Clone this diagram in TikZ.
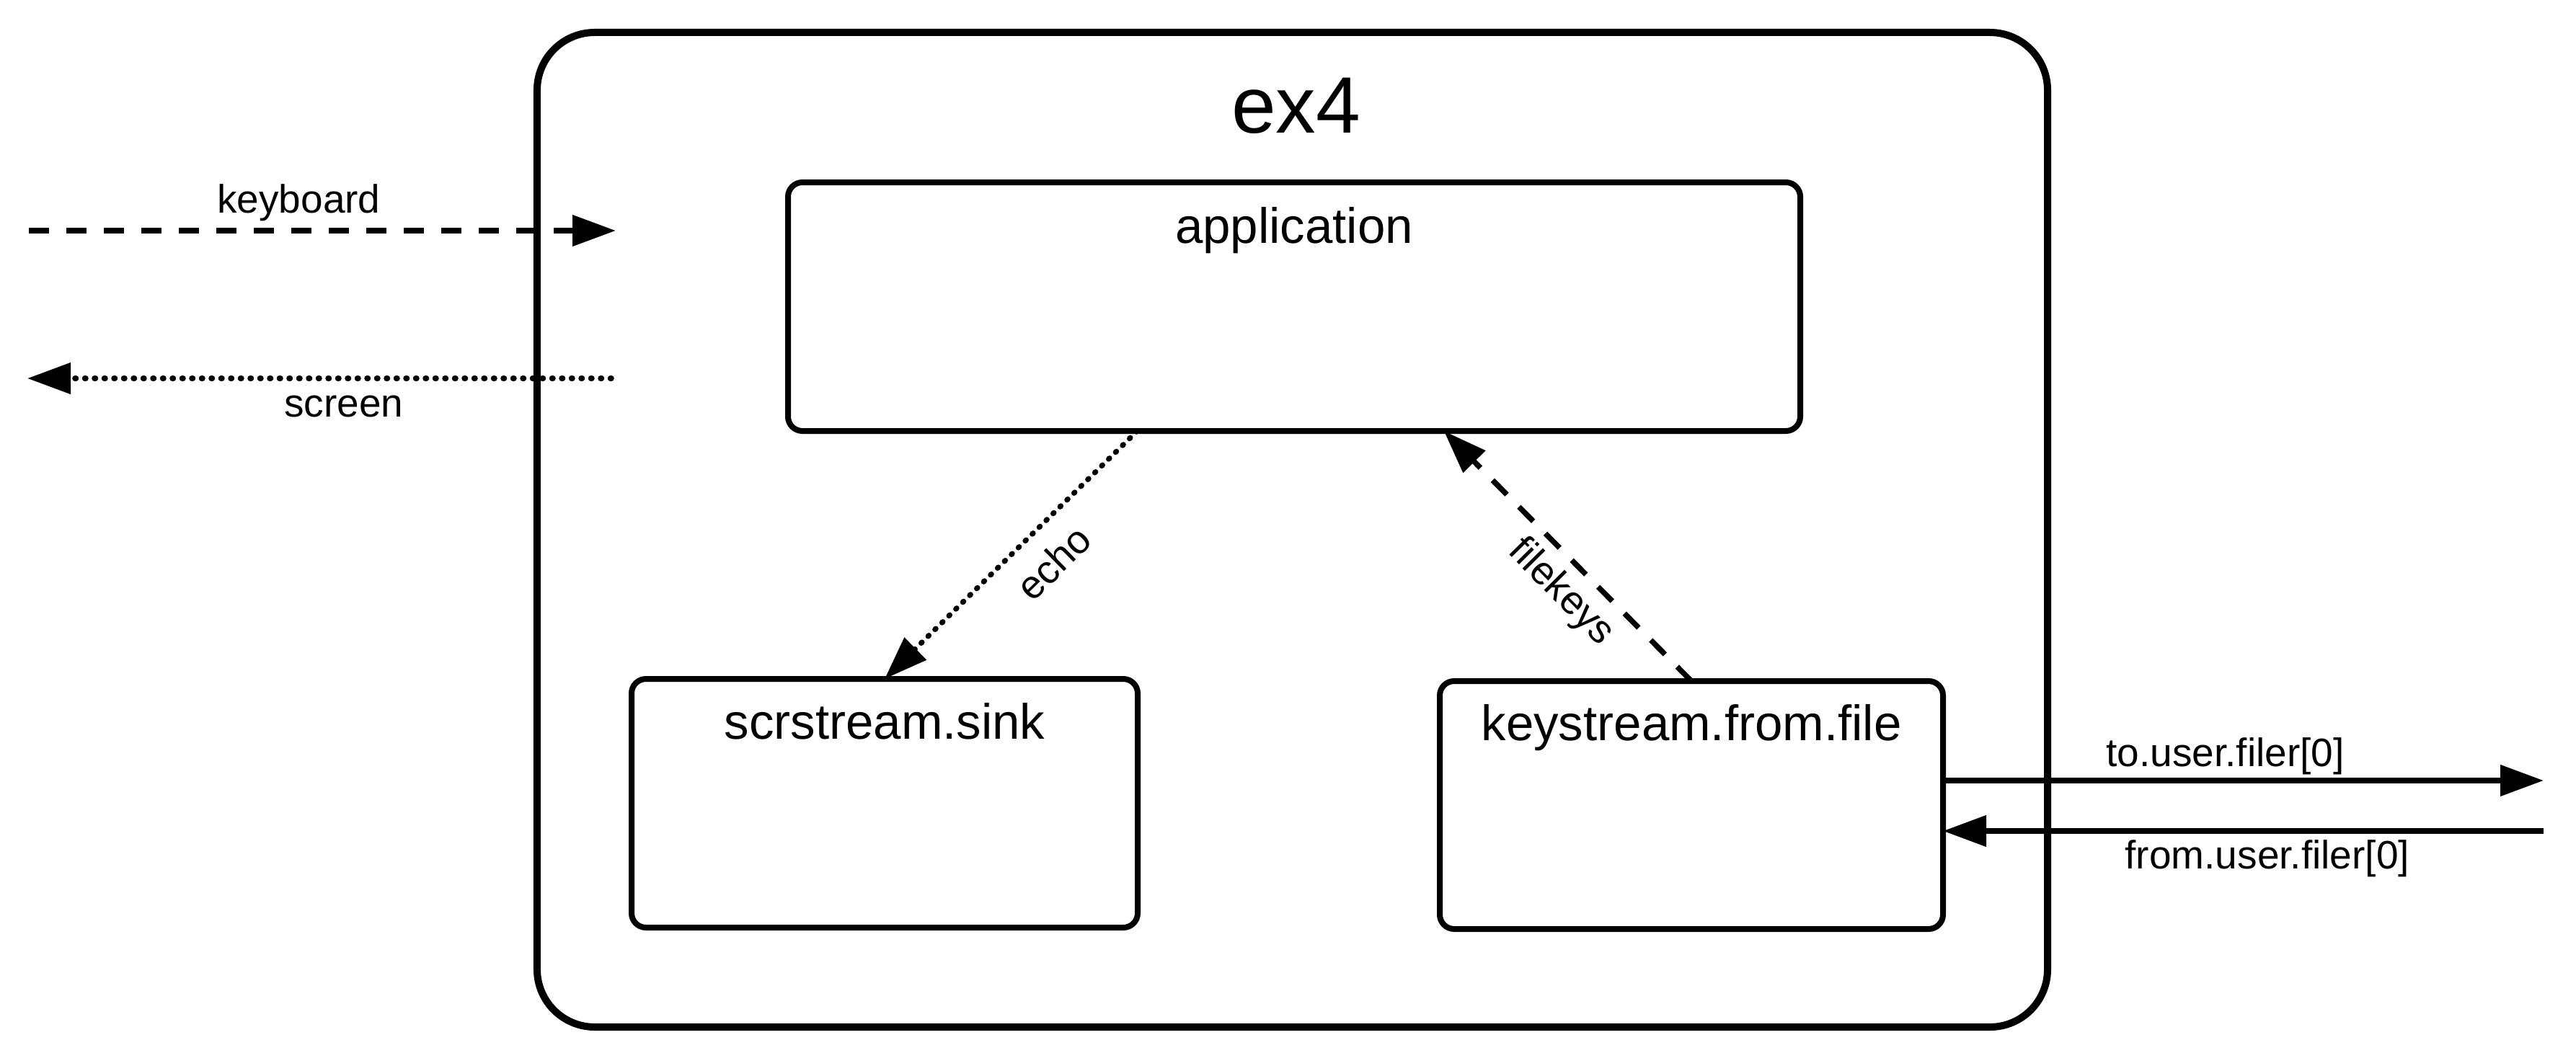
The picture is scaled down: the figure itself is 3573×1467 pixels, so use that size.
\documentclass[tikz,border=0pt]{standalone}
\usepackage{fontspec}
\setmainfont{Liberation Sans}
\usetikzlibrary{arrows.meta,calc}
\begin{document}
\begin{tikzpicture}[x=0.2pt,y=-0.2pt,
  outerbox/.style={draw, line width=2pt, rounded corners=16pt, inner sep=0pt, outer sep=0pt},
  modbox/.style={draw, line width=1.6pt, rounded corners=4pt, inner sep=0pt, outer sep=0pt},
  title/.style={anchor=base, font=\fontsize{13.8}{16}\selectfont, inner sep=0pt},
  bigtitle/.style={anchor=base, font=\fontsize{22.2}{26}\selectfont, inner sep=0pt},
  lbl/.style={font=\fontsize{11}{13}\selectfont, inner sep=0pt},
  tip/.style={-{Triangle[length=12pt,width=8.4pt]}},
  solidflow/.style={tip, line width=1.5pt},
  dashflow/.style={tip, line width=1.5pt, dash pattern=on 5.6pt off 4.8pt},
  dotflow/.style={tip, line width=1.5pt, line cap=round, dash pattern=on 0.3pt off 2.4pt},
]
\useasboundingbox (0,0) rectangle (3573,1467);

% boxes
\node[outerbox, minimum width=419pt, minimum height=276pt] (ex4) at (1792.5,735) {};
\node[modbox, minimum width=280.8pt, minimum height=69pt] (app) at (1795,425.5) {};
\node[modbox, minimum width=140.4pt, minimum height=69pt] (sink) at (1227,1114.5) {};
\node[modbox, minimum width=139.6pt, minimum height=68.8pt] (key) at (2346,1117) {};

% titles
\node[bigtitle] (ex4title) at ([xshift=1pt,yshift=-27.8pt]ex4.north) {ex4};
\node[title] (apptitle) at ([yshift=-16.8pt]app.north) {application};
\node[title] (sinktitle) at ([yshift=-16.6pt]sink.north) {scrstream.sink};
\node[title] (keytitle) at ([yshift=-16.4pt]key.north) {keystream.from.file};

% free ends
\coordinate (kbin) at (40,320);
\coordinate (kbend) at (854,320);
\coordinate (scrstart) at (848,525);
\coordinate (scrout) at (38,525);
\coordinate (tuout) at (3528,1083);
\coordinate (fuin) at (3528,1153);

% connectors
\draw[dashflow] (kbin) -- node[lbl, pos=0.46, anchor=base, yshift=5pt] {keyboard} (kbend);
\draw[dotflow] (scrstart) -- node[lbl, pos=0.458, anchor=base, yshift=-10.6pt] {screen} (scrout);
\draw[solidflow] (key.east |- tuout) -- node[lbl, pos=0.47, anchor=base, yshift=4pt] {to.user.filer[0]} (tuout);
\draw[solidflow] (fuin) -- node[lbl, pos=0.46, anchor=base, yshift=-10.4pt] {from.user.filer[0]} (key.east |- fuin);
\draw[dotflow] ($(app.south west)!0.345!(app.south east)$) -- node[lbl, pos=0.43, sloped, below, inner sep=5pt] {echo} (sink.north);
\draw[dashflow] (key.north) -- node[lbl, pos=0.44, sloped, below, inner sep=2.6pt] {filekeys} ($(app.south west)!0.648!(app.south east)$);
\end{tikzpicture}
\end{document}
